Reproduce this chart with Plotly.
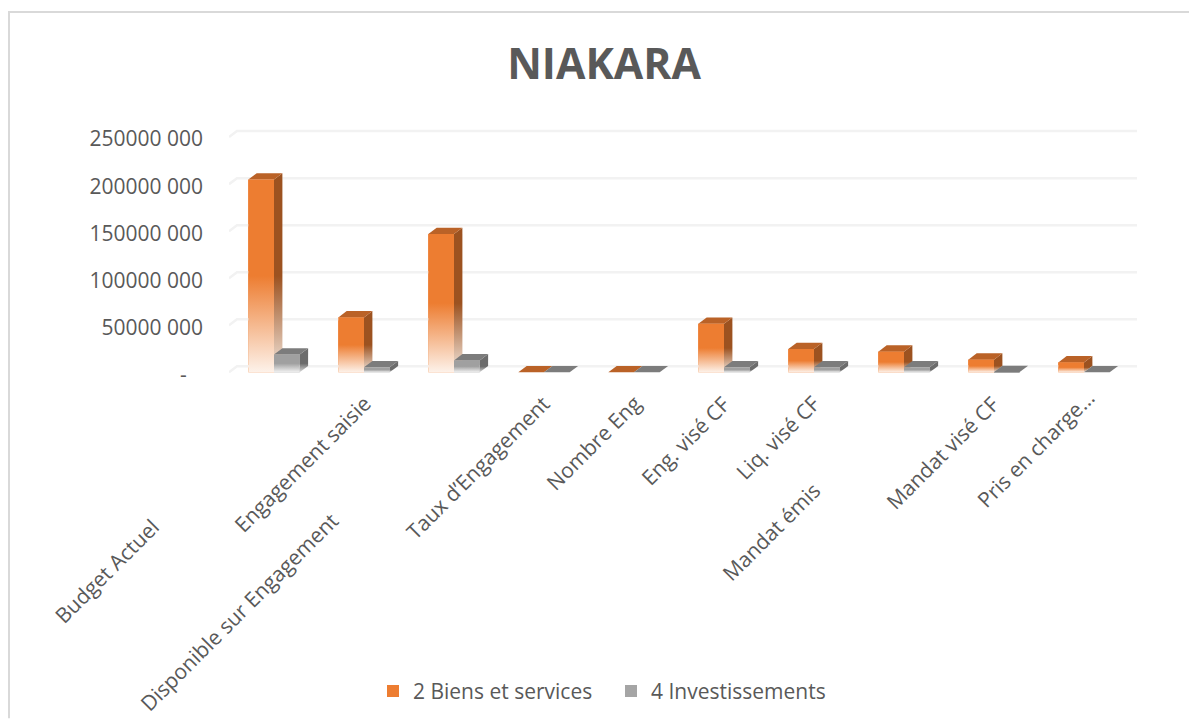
import plotly.graph_objects as go

# ---- data ----
categories = ["Budget Actuel", "Engagement saisie", "Disponible sur Engagement",
              "Taux d’Engagement", "Nombre Eng", "Eng. visé CF", "Liq. visé CF",
              "Mandat émis", "Mandat visé CF", "Pris en charge…"]
biens_services = [205e6, 58.4e6, 147e6, 0, 0, 51.7e6, 24.8e6, 22e6, 13.5e6, 10.6e6]
investissements = [19e6, 5.3e6, 12.7e6, 0, 0, 5.3e6, 5.3e6, 5.3e6, 0.3e6, 0]
y_ticks = [0, 50e6, 100e6, 150e6, 200e6, 250e6]
y_tick_labels = ["-\u00a0\u00a0\u00a0", "50000 000", "100000 000", "150000 000", "200000 000", "250000 000"]
series_names = ["2 Biens et services", "4 Investissements"]

# ---- layout constants ----
W, H = 1189, 719
ZERO_Y = 372.7
PX_X = 90.0                     # pixels per category
PX_Y = 235.5 / 250e6            # pixels per value unit
Y_MAX = 265e6
Y_MIN = -6e6
X_LO, X_HI = -0.5, 9.7
L = 229
R = L + (X_HI - X_LO) * PX_X
T = ZERO_Y - Y_MAX * PX_Y
B = ZERO_Y - Y_MIN * PX_Y
BAR_W = 25.7 / PX_X
DX = 8.0 / PX_X
DY = 6.0 / PX_Y
SIDE_DX = 8.4 / PX_X
SIDE_DY = 6.3 / PX_Y
LABEL_DROP = 2 / PX_Y
FONT = "Open Sans"
TXT = "#595959"
label_centres = [(107, 572), (302, 464), (239, 613), (477, 468), (593, 443),
                 (685, 441), (777, 438), (771, 533), (942, 453), (1035, 449)]

fig = go.Figure()
xs = list(range(len(categories)))

for name, vals, col, off in [(series_names[0], biens_services, "#ED7D31", -BAR_W),
                             (series_names[1], investissements, "#A5A5A5", 0)]:
    fig.add_trace(go.Bar(x=xs, y=vals, width=BAR_W, offset=off, name=name,
                         marker=dict(color=col, line=dict(width=0)), cliponaxis=False))

# back wall grid
for v in y_ticks:
    fig.add_trace(go.Scatter(x=[X_LO, X_LO + DX, 9.5 + DX], y=[v, v + DY, v + DY], mode="lines",
                             line=dict(color="#F2F2F2", width=2.5), showlegend=False,
                             hoverinfo="skip", cliponaxis=False))


def poly(xp, yp, **kw):
    fig.add_trace(go.Scatter(x=xp, y=yp, mode="lines", line=dict(width=0), fill="toself",
                             showlegend=False, hoverinfo="skip", cliponaxis=False, **kw))


def grad(v, base, pale):
    return dict(type="vertical", start=0, stop=max(v, 1),
                colorscale=[[0, pale], [0.5, base], [1, base]])


styles = [(biens_services, -BAR_W, "#ED7D31", "#FDF2EA", "#9C5220", "#F3E6DC", "#BA6227"),
          (investissements, 0, "#A0A0A0", "#F2F2F2", "#6C6C6C", "#DDDDDD", "#7C7C7C")]

for vals, off, front, front_pale, side, side_pale, top in styles:
    for i, v in zip(xs, vals):
        x0 = i + off
        x1 = x0 + BAR_W
        if v > 0:
            poly([x1, x1 + SIDE_DX, x1 + SIDE_DX, x1, x1], [0, SIDE_DY, v + SIDE_DY, v, 0],
                 fillgradient=grad(v, side, side_pale))
        poly([x0, x1, x1 + SIDE_DX, x0 + SIDE_DX, x0], [v, v, v + SIDE_DY, v + SIDE_DY, v], fillcolor=top)
        if v > 0:
            poly([x0, x1, x1, x0, x0], [0, 0, v, v, 0], fillgradient=grad(v, front, front_pale))

annotations = []
for c, (cx, cy) in zip(categories, label_centres):
    annotations.append(dict(text=c, xref="paper", yref="paper",
                            x=(cx - L) / (R - L), y=(B - cy) / (B - T),
                            xanchor="center", yanchor="middle", textangle=-45, showarrow=False,
                            font=dict(family=FONT, size=21, color=TXT)))

fig.update_layout(
    width=W, height=H, autosize=False,
    margin=dict(l=L, r=W - R, t=T, b=H - B, autoexpand=False),
    paper_bgcolor="white", plot_bgcolor="white",
    barmode="overlay",
    title=dict(text="NIAKARA", x=604 / W, y=1 - 64 / H, xanchor="center", yanchor="middle",
               font=dict(family=FONT, size=42.7, color=TXT, weight="bold")),
    xaxis=dict(range=[X_LO, X_HI], showgrid=False, zeroline=False, showticklabels=False,
               showline=False, ticks=""),
    yaxis=dict(range=[Y_MIN, Y_MAX], tickvals=[v - LABEL_DROP for v in y_ticks], ticktext=y_tick_labels,
               showgrid=False, zeroline=False, showline=False, ticks="", ticklabelstandoff=25,
               tickfont=dict(family=FONT, size=21, color=TXT)),
    legend=dict(orientation="h", x=(373 - L) / (R - L), y=(B - 692) / (B - T), xanchor="left",
                yanchor="middle", font=dict(family=FONT, size=21, color=TXT),
                entrywidth=193, entrywidthmode="pixels",
                bgcolor="rgba(0,0,0,0)", itemclick=False),
    shapes=[dict(type="line", xref="paper", yref="paper", layer="below",
                 x0=(9 - L) / (R - L), x1=(W - L) / (R - L), y0=(B - 12) / (B - T), y1=(B - 12) / (B - T),
                 line=dict(color="#D9D9D9", width=2)),
            dict(type="line", xref="paper", yref="paper", layer="below",
                 x0=(9 - L) / (R - L), x1=(9 - L) / (R - L), y0=(B - 11) / (B - T), y1=(B - H) / (B - T),
                 line=dict(color="#D9D9D9", width=2))],
    annotations=annotations,
)

fig.write_html("out.html", config={"displayModeBar": False},
               post_script="document.body.style.margin='0';document.body.style.overflow='hidden';")
